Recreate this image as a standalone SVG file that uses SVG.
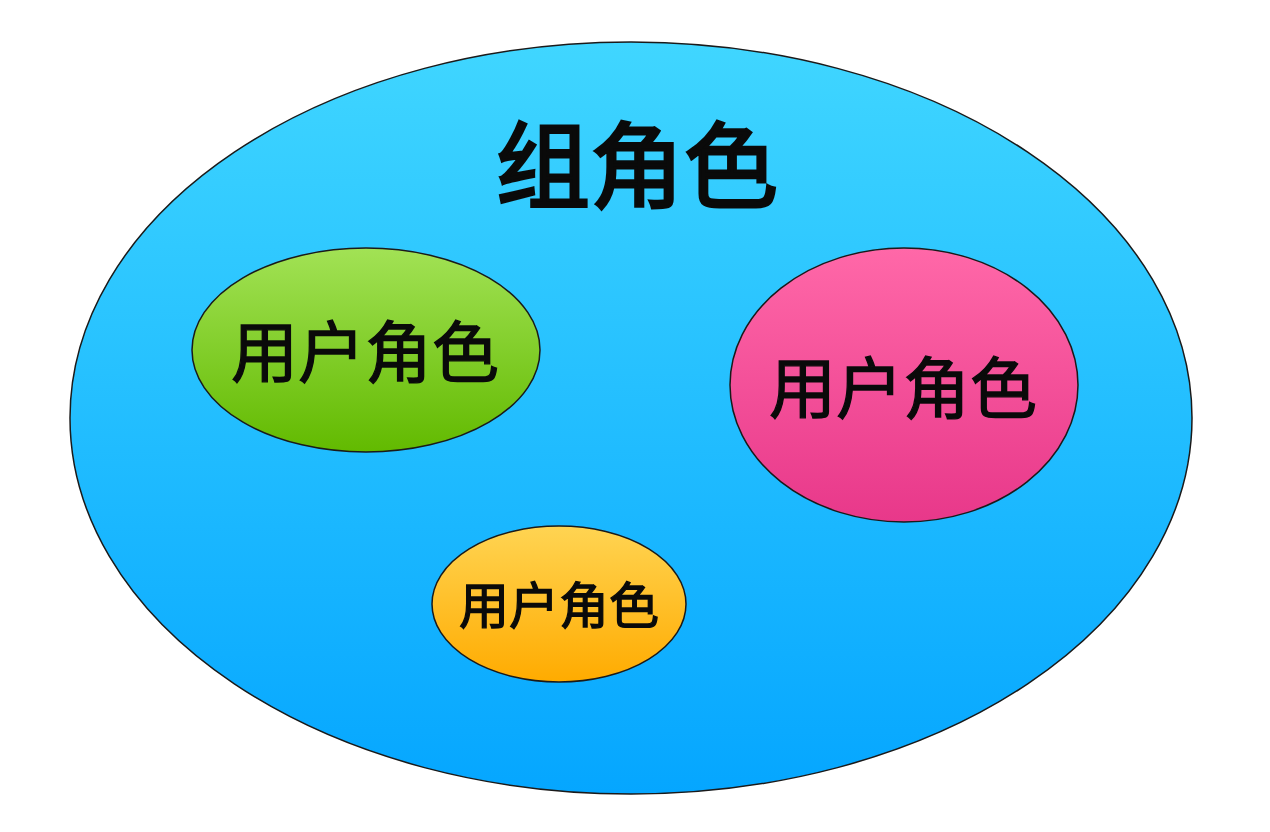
<svg xmlns="http://www.w3.org/2000/svg" width="1270" height="832" viewBox="0 0 1270 832">
<defs>
<linearGradient id="gBlue" x1="0" y1="0" x2="0" y2="1"><stop offset="0" stop-color="#40d6ff"/><stop offset="1" stop-color="#05a6ff"/></linearGradient>
<linearGradient id="gGreen" x1="0" y1="0" x2="0" y2="1"><stop offset="0" stop-color="#a2e255"/><stop offset="1" stop-color="#62ba00"/></linearGradient>
<linearGradient id="gPink" x1="0" y1="0" x2="0" y2="1"><stop offset="0" stop-color="#ff68a8"/><stop offset="1" stop-color="#e8388a"/></linearGradient>
<linearGradient id="gOrange" x1="0" y1="0" x2="0" y2="1"><stop offset="0" stop-color="#ffd452"/><stop offset="1" stop-color="#ffab00"/></linearGradient>
</defs>
<style>
ellipse{stroke:#1a1a1a;stroke-width:1.5}
text{font-family:"Noto Sans CJK SC","Noto Sans CJK JP",sans-serif;font-weight:400;fill:#0a0a0a;stroke:#0a0a0a;stroke-width:1.3;text-anchor:middle}
.title{stroke-width:3}
</style>
<rect width="1270" height="832" fill="#ffffff"/>
<g id="group-role">
<ellipse cx="631" cy="418" rx="561" ry="376" fill="url(#gBlue)"/>
<text class="title" x="637" y="201" font-size="94">组角色</text>
</g>
<g id="user-role-green">
<ellipse cx="366" cy="350" rx="174" ry="102" fill="url(#gGreen)"/>
<text x="365" y="377" font-size="67">用户角色</text>
</g>
<g id="user-role-pink">
<ellipse cx="904" cy="385" rx="174" ry="137" fill="url(#gPink)"/>
<text x="903" y="413" font-size="67">用户角色</text>
</g>
<g id="user-role-orange">
<ellipse cx="559" cy="604" rx="127" ry="78" fill="url(#gOrange)"/>
<text x="559" y="624" font-size="50">用户角色</text>
</g>
<g id="connectors"/>
</svg>
